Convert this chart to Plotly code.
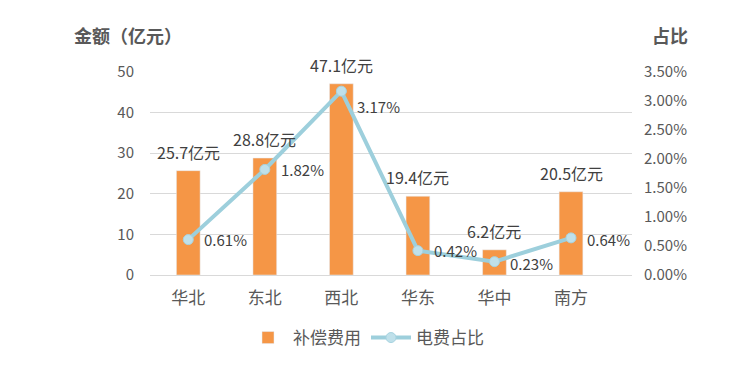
import plotly.graph_objects as go

categories = ["华北", "东北", "西北", "华东", "华中", "南方"]
amounts = [25.7, 28.8, 47.1, 19.4, 6.2, 20.5]
shares = [0.0061, 0.0182, 0.0317, 0.0042, 0.0023, 0.0064]
amount_labels = ["25.7亿元", "28.8亿元", "47.1亿元", "19.4亿元", "6.2亿元", "20.5亿元"]
share_labels = ["0.61%", "1.82%", "3.17%", "0.42%", "0.23%", "0.64%"]

FONT = "Noto Sans CJK SC"
TXT = "#404040"
AX = "#595959"

OFF = 8  # default page body margin
W, H = 756 - OFF, 365 - OFF
# plot area in page pixels: x 150..632, y 72..275
ml, mt = 150 - OFF, 72 - OFF
mr = W - (632 - OFF)
mb = H - (275 - OFF)
pw, ph = W - ml - mr, H - mt - mb


def px(x):
    return (x - OFF - ml) / pw


def py(y):
    return (H - mb - (y - OFF)) / ph


fig = go.Figure()
fig.add_trace(go.Bar(
    x=categories, y=amounts, name="补偿费用",
    marker=dict(color="#F59646"), width=0.31, yaxis="y",
))
fig.add_trace(go.Scatter(
    x=categories, y=shares, name="电费占比", mode="lines+markers",
    line=dict(color="#9DCFDC", width=4),
    marker=dict(size=10, color="#BFE0EA", line=dict(color="#A6D3E0", width=1)),
    yaxis="y2",
))

annotations = []
for c, v, t in zip(categories, amounts, amount_labels):
    annotations.append(dict(x=c, y=v, xref="x", yref="y", text=t, showarrow=False,
                            yshift=19, font=dict(family=FONT, size=16, color=TXT)))
share_shift = [0, 0, -15, 0, -2, -2]
for c, v, t, s in zip(categories, shares, share_labels, share_shift):
    annotations.append(dict(x=c, y=v, xref="x", yref="y2", text=t, showarrow=False,
                            xanchor="left", xshift=14, yshift=s,
                            font=dict(family=FONT, size=15, color=TXT)))
annotations.append(dict(x=px(72), y=py(35), xref="paper", yref="paper", xanchor="left",
                        yanchor="middle", text="<b>金额（亿元）</b>", showarrow=False,
                        font=dict(family=FONT, size=18, color=AX)))
annotations.append(dict(x=px(690), y=py(35), xref="paper", yref="paper", xanchor="right",
                        yanchor="middle", text="<b>占比</b>", showarrow=False,
                        font=dict(family=FONT, size=18, color=AX)))

fig.update_layout(
    width=W, height=H,
    margin=dict(l=ml, r=mr, t=mt, b=mb, autoexpand=False),
    plot_bgcolor="white", paper_bgcolor="white",
    font=dict(family=FONT, size=15, color=AX),
    annotations=annotations,
    showlegend=True,
    legend=dict(orientation="h", xref="container", yref="container",
                x=(366 - OFF) / W, xanchor="center", y=(H - (338 - OFF)) / H, yanchor="middle",
                font=dict(family=FONT, size=17, color=AX), itemwidth=40),
    xaxis=dict(showgrid=False, showline=True, linecolor="#D9D9D9", linewidth=1,
               ticks="", tickfont=dict(family=FONT, size=17, color=AX),
               ticklabelstandoff=8),
    yaxis=dict(range=[0, 50], dtick=10, showgrid=True, gridcolor="#D9D9D9", gridwidth=1,
               zeroline=False, showline=False, ticks="",
               tickfont=dict(family=FONT, size=15, color=AX), ticklabelstandoff=15),
    yaxis2=dict(range=[0, 0.035], dtick=0.005, tickformat=".2%", overlaying="y", side="right",
                showgrid=False, zeroline=False, showline=False, ticks="",
                tickfont=dict(family=FONT, size=15, color=AX), ticklabelstandoff=11),
)

fig.write_html("out.html")
